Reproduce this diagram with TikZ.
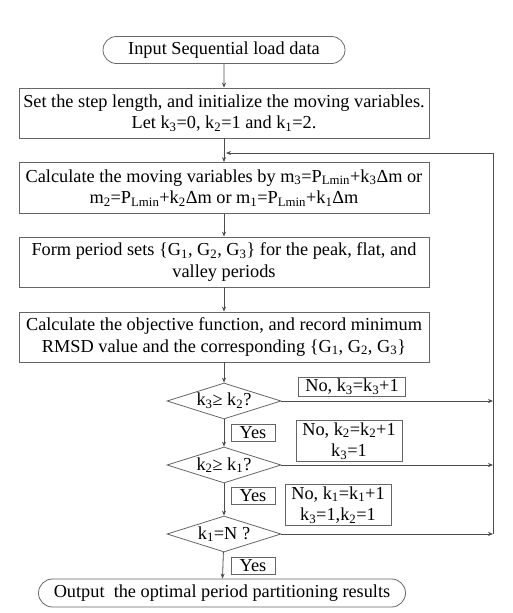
\documentclass[tikz,border=0pt]{standalone}
\usepackage{fontspec}
\setmainfont{Liberation Serif}
\usetikzlibrary{shapes.geometric,shapes.misc,arrows.meta}
\newcommand{\sub}[1]{\textsubscript{#1}}
\begin{document}
\begin{tikzpicture}[x=1pt,y=-1pt,
    font=\fontsize{18.3}{21.5}\selectfont,
    line/.style={draw=black!70, line width=0.8pt},
    arr/.style={line, -{Stealth[length=5pt,width=4pt]}},
    proc/.style={draw=black!60, line width=0.8pt, rectangle, minimum width=410pt, minimum height=50pt, align=center, inner sep=1pt},
    term/.style={draw=black!60, line width=0.8pt, rounded rectangle, minimum height=27pt, inner sep=1pt},
    cond/.style={draw=black!60, line width=0.8pt, diamond, aspect=3, minimum width=114pt, minimum height=36pt, inner sep=0pt},
    tag/.style={draw=black!60, line width=0.8pt, rectangle, align=center, inner sep=0pt, minimum height=17pt}]
  \useasboundingbox (0,0) rectangle (513,613);
  \node[term, minimum width=244pt] (start) at (224,50) {Input Sequential load data};
  \node[proc] (init) at (224,113) {Set the step length, and initialize the moving variables.\\Let k\sub{3}=0, k\sub{2}=1 and k\sub{1}=2.};
  \node[proc, minimum height=51pt] (move) at (224,188) {Calculate the moving variables by m\sub{3}=P\sub{Lmin}+k\sub{3}Δm or\\m\sub{2}=P\sub{Lmin}+k\sub{2}Δm or m\sub{1}=P\sub{Lmin}+k\sub{1}Δm};
  \node[proc] (form) at (224,262) {Form period sets \{G\sub{1}, G\sub{2}, G\sub{3}\} for the peak, flat, and\\valley periods};
  \node[proc] (calc) at (224,337) {Calculate the objective function, and record minimum\\RMSD value and the corresponding \{G\sub{1}, G\sub{2}, G\sub{3}\}};
  \node[cond] (k3) at (224,401) {k\sub{3}≥ k\sub{2}?};
  \node[cond] (k2) at (224,465) {k\sub{2}≥ k\sub{1}?};
  \node[cond] (k1) at (224,534) {k\sub{1}=N ?};
  \node[term, minimum width=369pt, minimum height=28pt] (stop) at (222,593) {Output\ \ the optimal period partitioning results};
  \node[tag, minimum width=107pt, minimum height=19pt] (no3) at (352,387) {No, k\sub{3}=k\sub{3}+1};
  \node[tag, minimum width=106pt, minimum height=41pt] (no2) at (349,441) {No, k\sub{2}=k\sub{2}+1\\k\sub{3}=1};
  \node[tag, minimum width=106pt, minimum height=41pt] (no1) at (338,505) {No, k\sub{1}=k\sub{1}+1\\k\sub{3}=1,k\sub{2}=1};
  \node[tag, minimum width=44pt] (yes3) at (253,433) {Yes};
  \node[tag, minimum width=44pt] (yes2) at (253,496) {Yes};
  \node[tag, minimum width=44pt] (yes1) at (253,566) {Yes};
  \coordinate (back) at (224,153);
  \coordinate (rtop) at (493,153);
  \coordinate (rbot) at (493,534);
  % main line
  \draw[arr] (start) -- (init);
  \draw[arr] (init) -- (move);
  \draw[arr] (move) -- (form);
  \draw[arr] (form) -- (calc);
  \draw[arr] (calc) -- (k3);
  \draw[arr] (k3) -- (k2);
  \draw[arr] (k2) -- (k1);
  \draw[arr] (k1) -- (stop);
  % loop back
  \draw[arr] (k3.east) -- (k3.east -| rtop);
  \draw[arr] (k2.east) -- (k2.east -| rtop);
  \draw[arr] (k1.east) -- (rbot);
  \draw[arr] (rbot) -- (rtop) -- ([xshift=2pt]back);
\end{tikzpicture}
\end{document}
